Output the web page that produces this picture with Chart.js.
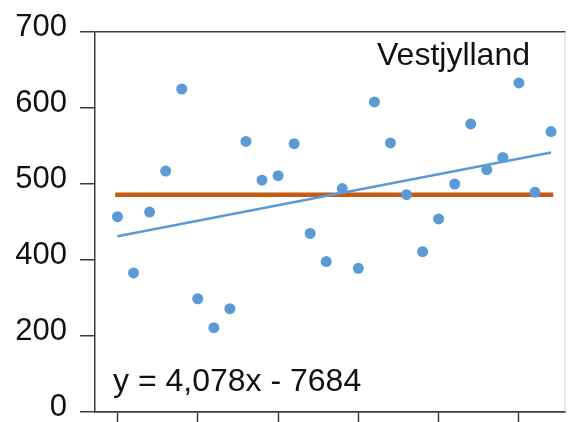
<!DOCTYPE html>
<html>
<head>
<meta charset="utf-8">
<script src="https://cdn.jsdelivr.net/npm/chart.js@4/dist/chart.umd.min.js"></script>
<style>
  html, body { margin: 0; padding: 0; background: #ffffff; }
  #wrap { width: 571px; height: 422px; }
</style>
</head>
<body>
<div id="wrap"><canvas id="c" width="571" height="422"></canvas></div>
<script>
// Annual observations, Vestjylland
const years = [1990, 1991, 1992, 1993, 1994, 1995, 1996, 1997, 1998, 1999,
               2000, 2001, 2002, 2003, 2004, 2005, 2006, 2007, 2008, 2009,
               2010, 2011, 2012, 2013, 2014, 2015, 2016, 2017];
const values = [457, 383, 463, 517, 625, 349, 311, 336, 556, 505,
                511, 553, 435, 398, 494, 389, 608, 554, 486, 411,
                454, 500, 579, 519, 535, 633, 489, 569];

// Axis ticks
const yTickValues = [200, 300, 400, 500, 600, 700];
const yTickLabels = ['0', '200', '400', '500', '600', '700'];
const xTickValues = [1990, 1995, 2000, 2005, 2010, 2015];

// Linear trend (y = slope * year + intercept) and the period average
const trendSlope = 4.078;
const trendIntercept = -7684;
const averageLevel = 486;

const regionName = 'Vestjylland';
const equationText = 'y = 4,078x - 7684';

const FONT = '"Liberation Sans", Arial, Helvetica, sans-serif';
const AXIS_COLOR = '#3c3c3c';

const scatterPoints = years.map((yr, i) => ({ x: yr, y: values[i] }));
const firstYear = years[0];
const lastYear = years[years.length - 1];
const trendPoints = [firstYear, lastYear].map(yr => ({ x: yr, y: trendSlope * yr + trendIntercept }));
const averagePoints = [firstYear, lastYear].map(yr => ({ x: yr, y: averageLevel }));

// Region name, trend equation and the light right edge of the frame
const annotations = {
  id: 'annotations',
  afterDatasetsDraw(chart) {
    const { ctx, chartArea } = chart;
    ctx.save();
    ctx.strokeStyle = '#d4d4d4';
    ctx.lineWidth = 1;
    ctx.beginPath();
    ctx.moveTo(chartArea.right - 0.5, chartArea.top);
    ctx.lineTo(chartArea.right - 0.5, chartArea.bottom);
    ctx.stroke();

    ctx.fillStyle = '#111111';
    ctx.font = '32px ' + FONT;
    ctx.textBaseline = 'alphabetic';
    ctx.textAlign = 'left';
    ctx.fillText(regionName, chartArea.left + 282, chartArea.top + 33);
    ctx.fillText(equationText, chartArea.left + 18, chartArea.bottom - 21.5);
    ctx.restore();
  }
};

new Chart(document.getElementById('c'), {
  type: 'scatter',
  data: {
    datasets: [
      {
        label: regionName,
        data: scatterPoints,
        pointRadius: 5.5,
        pointHoverRadius: 5.5,
        pointBackgroundColor: '#5b9bd5',
        pointBorderColor: '#5b9bd5',
        pointBorderWidth: 0,
        showLine: false,
        order: 0
      },
      {
        type: 'line',
        label: 'Trend',
        data: trendPoints,
        borderColor: '#5b9bd5',
        borderWidth: 2.5,
        pointRadius: 0,
        fill: false,
        order: 1
      },
      {
        type: 'line',
        label: 'Gennemsnit',
        data: averagePoints,
        borderColor: '#c55a11',
        borderWidth: 4.5,
        borderCapStyle: 'square',
        pointRadius: 0,
        fill: false,
        order: 2
      }
    ]
  },
  options: {
    responsive: false,
    animation: false,
    devicePixelRatio: 1,
    layout: { padding: { top: 32, right: 1, bottom: 0, left: 0 } },
    plugins: {
      legend: { display: false },
      tooltip: { enabled: false },
      title: { display: false }
    },
    scales: {
      x: {
        type: 'linear',
        min: 1988.6,
        max: 2017.9,
        afterBuildTicks(scale) {
          scale.ticks = xTickValues.map(v => ({ value: v }));
        },
        afterFit(scale) {
          scale.height = 10;
          scale.paddingLeft = 0;
          scale.paddingRight = 0;
        },
        ticks: { display: false },
        grid: {
          drawOnChartArea: false,
          drawTicks: true,
          tickLength: 10,
          tickColor: AXIS_COLOR,
          tickWidth: 1.5
        },
        border: { display: true, color: AXIS_COLOR, width: 1.5 }
      },
      y: {
        type: 'linear',
        min: 200,
        max: 700,
        afterBuildTicks(scale) {
          scale.ticks = yTickValues.map(v => ({ value: v }));
        },
        afterFit(scale) {
          scale.width = 95;
          scale.paddingTop = 0;
          scale.paddingBottom = 0;
        },
        ticks: {
          padding: 13,
          labelOffset: -5,
          color: '#111111',
          font: { family: FONT, size: 31 },
          callback(value) {
            const idx = yTickValues.indexOf(value);
            return idx >= 0 ? yTickLabels[idx] : '';
          }
        },
        grid: {
          drawOnChartArea: true,
          drawTicks: true,
          tickLength: 15,
          tickColor: AXIS_COLOR,
          tickWidth: 1.5,
          lineWidth: 1.5,
          color(ctx) {
            const v = ctx.tick && ctx.tick.value;
            return (v === 700 || v === 200) ? AXIS_COLOR : 'rgba(0,0,0,0)';
          }
        },
        border: { display: true, color: AXIS_COLOR, width: 1.5 }
      }
    }
  },
  plugins: [annotations]
});
</script>
</body>
</html>
